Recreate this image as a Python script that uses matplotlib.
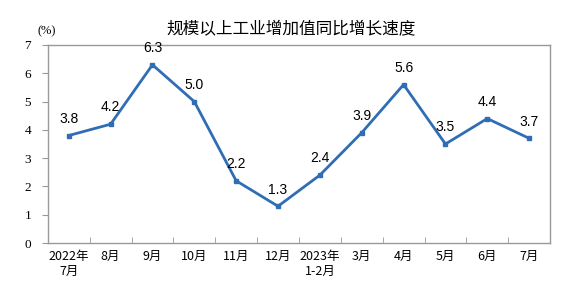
import matplotlib.pyplot as plt
import numpy as np

plt.rcParams['font.family'] = ['Noto Sans CJK SC', 'DejaVu Sans']

months = ["2022年\n7月", "8月", "9月", "10月", "11月", "12月",
          "2023年\n1-2月", "3月", "4月", "5月", "6月", "7月"]
growth = [3.8, 4.2, 6.3, 5.0, 2.2, 1.3, 2.4, 3.9, 5.6, 3.5, 4.4, 3.7]
y_ticks = [0, 1, 2, 3, 4, 5, 6, 7]

blue = "#2F6DB5"
frame = "#999999"

fig = plt.figure(figsize=(5.76, 2.96), dpi=100)
ax = fig.add_axes([0.083, 0.179, 0.872, 0.669])

x = np.arange(len(months))
ax.plot(x, growth, color=blue, linewidth=2, marker="s", markersize=3.5)

for xi, v in zip(x, growth):
    ax.annotate(f"{v:.1f}", (xi, v), xytext=(0, 7), textcoords="offset points",
                ha="center", va="bottom", fontsize=10, family="Liberation Sans")

ax.set_xlim(-0.5, len(months) - 0.5)
ax.set_ylim(0, 7)

ax.set_yticks(y_ticks)
ax.set_yticklabels([str(t) for t in y_ticks])
for lab in ax.get_yticklabels():
    lab.set_fontfamily("Liberation Serif")
    lab.set_fontsize(9.5)
ax.tick_params(axis="y", direction="out", length=4, color=frame, pad=8)

ax.set_xticks(x)
ax.set_xticklabels(months, fontsize=9, linespacing=1.2)
ax.tick_params(axis="x", which="major", length=0, pad=5)
ax.set_xticks(x[:-1] + 0.5, minor=True)
ax.tick_params(axis="x", which="minor", direction="in", length=4, color=frame)

for s in ax.spines.values():
    s.set_color(frame)
    s.set_linewidth(1)

fig.text(0.505, 0.9, "规模以上工业增加值同比增长速度", ha="center", va="center", fontsize=12)
fig.text(0.065, 0.895, "(%)", ha="left", va="center", fontsize=9, family="Liberation Serif")

fig.savefig("out.png", dpi=100)
